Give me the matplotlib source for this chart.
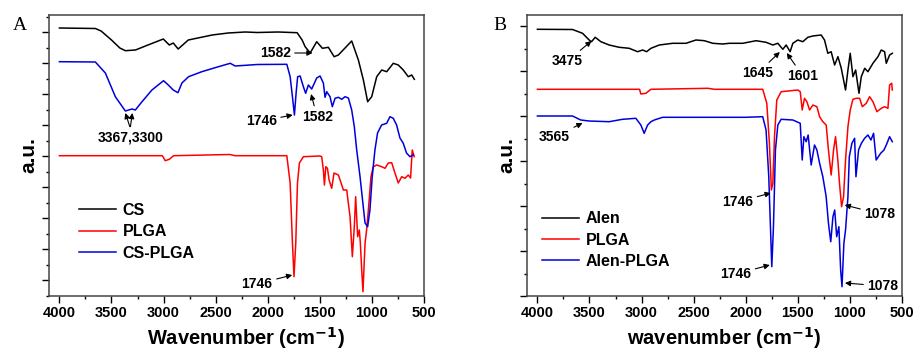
import matplotlib
matplotlib.use("Agg")
import matplotlib.pyplot as plt
from matplotlib.ticker import MultipleLocator

plt.rcParams["font.family"] = ["Liberation Sans", "DejaVu Sans"]
plt.rcParams["font.weight"] = "bold"
plt.rcParams["mathtext.default"] = "bf"

# ---- panel A: CS / PLGA / CS-PLGA  (wavenumber, a.u.)
cs_wn = [4000, 3655, 3600, 3500, 3420, 3367, 3270, 3150, 3003, 2945, 2907, 2860, 2763, 2533,
         2380, 2217, 2100, 1900, 1718, 1670, 1641, 1593, 1530, 1475, 1418, 1363, 1322, 1194,
         1130, 1082, 1041, 1002, 954, 906, 858, 795, 747, 699, 651, 618, 593]
cs_y = [268, 267.5, 265, 256, 248, 245.3, 246, 251, 257, 251, 253, 247, 256, 261,
        263, 264, 263.5, 264, 263.3, 256, 249.3, 243, 254.3, 247.7, 248.7, 239.3, 241, 255,
        236, 216, 194.3, 199.3, 219.3, 226, 224.3, 232.7, 231, 226, 219.3, 221, 216.7]

plga_a_wn = [4000, 3012, 2984, 2945, 2904, 2365, 2313, 1817, 1785, 1763, 1748, 1731, 1715, 1696,
             1658, 1500, 1482, 1466, 1456, 1443, 1427, 1411, 1386, 1364, 1322, 1296, 1274, 1242,
             1210, 1188, 1169, 1156, 1137, 1121, 1111, 1098, 1086, 1066, 1051, 1034, 1009, 987,
             954, 907, 874, 843, 810, 779, 747, 714, 683, 651, 629, 613, 594]
plga_a_y = [140.3, 140.3, 135.3, 136.7, 140.3, 141.5, 140.3, 140.3, 113, 53, 19.3, 53, 112.7, 133,
            139.3, 140, 139.3, 126, 111, 129.3, 127.7, 116, 107.7, 123, 121, 113, 106, 106,
            79.3, 39.3, 69.3, 99.3, 59.3, 66, 53, 26, 4.3, 52.7, 66, 86, 119.3, 129.3,
            131, 129.3, 127.7, 133, 133.3, 123, 113, 119.3, 117.7, 121, 118, 146, 139.3]

csplga_wn = [4000, 3655, 3559, 3463, 3367, 3303, 3271, 3207, 3112, 3000, 2955, 2907, 2862, 2824,
             2760, 2633, 2473, 2360, 2313, 2100, 1817, 1785, 1763, 1744, 1728, 1713, 1689, 1658,
             1636, 1610, 1578, 1530, 1498, 1466, 1450, 1434, 1402, 1380, 1354, 1322, 1290, 1258,
             1226, 1194, 1169, 1146, 1114, 1083, 1066, 1041, 1019, 997, 971, 946, 907, 858, 827,
             795, 763, 731, 699, 668, 635, 603]
csplga_y = [234.3, 234, 223, 199.3, 185, 187, 186, 194.3, 206, 215.3, 211, 206, 203.3, 213,
            219.3, 224.3, 229.3, 232.7, 230, 231.5, 231.7, 219.3, 199.3, 181, 202.7, 219.3, 220, 209.3,
            202.7, 211, 207, 218, 220, 213, 198.7, 204.3, 199.3, 189.3, 197.7, 198.7, 196.7, 199.3,
            198, 186, 169.3, 146, 119.3, 89.3, 73, 69.3, 86, 119.3, 146, 163, 171, 172.7, 179.3,
            177.7, 171, 158, 152.7, 143, 139.3, 141]

# ---- panel B: Alen / PLGA / Alen-PLGA
alen_wn = [4000, 3663, 3567, 3503, 3481, 3445, 3391, 3311, 3215, 3119, 3038, 2990, 2952, 2910,
           2830, 2702, 2574, 2478, 2397, 2317, 2221, 2157, 2029, 1901, 1805, 1740, 1692, 1644,
           1612, 1574, 1548, 1500, 1452, 1404, 1356, 1276, 1244, 1212, 1180, 1147, 1115, 1083,
           1042, 1019, 997, 971, 945, 913, 891, 858, 827, 779, 731, 699, 667, 651, 619, 593]
alen_y = [266.7, 266.5, 262.7, 256, 254.3, 258.7, 254.3, 251, 248.7, 247.7, 244.3, 246, 244.3, 247.7,
          251, 252.7, 252.7, 256, 255.3, 252.7, 252, 252.7, 252.7, 255.3, 253.7, 251, 252.7, 246.7,
          251, 244.3, 252.7, 256, 254.3, 258.7, 260, 261, 256, 242.7, 244.3, 231, 239.3, 227.7,
          206, 226, 242.7, 219.3, 226, 202.7, 219.3, 227.7, 224.3, 232.7, 239.3, 246, 244.3, 232.7, 241, 242.7]

plga_b_wn = [4000, 3020, 3007, 2959, 2910, 2365, 2300, 1837, 1798, 1773, 1754, 1740, 1724, 1702,
             1660, 1500, 1477, 1458, 1436, 1413, 1387, 1356, 1317, 1291, 1260, 1228, 1206, 1180,
             1157, 1138, 1116, 1100, 1080, 1061, 1042, 1019, 997, 971, 940, 907, 881, 843, 811,
             779, 741, 699, 667, 635, 619, 599, 593]
plga_b_y = [206.7, 206.7, 202, 202.7, 206.7, 207.7, 206.7, 206.7, 192.7, 153, 106, 112.7, 159.3, 196,
            204.3, 206, 204.3, 186, 197.7, 194.3, 186, 191, 189.3, 179.3, 174.3, 171, 146, 121,
            146, 159.3, 136, 112.7, 89.3, 99.3, 136, 169.3, 186, 196.7, 197.7, 197.7, 189.3, 192.7, 199.3,
            194.3, 184.3, 187.7, 189.3, 187.7, 211, 212.7, 206]

alplga_wn = [4000, 3663, 3584, 3503, 3311, 3183, 3055, 3007, 2975, 2942, 2910, 2878, 2798, 2000,
             1837, 1805, 1779, 1763, 1750, 1734, 1715, 1692, 1660, 1548, 1477, 1458, 1442, 1420,
             1401, 1372, 1340, 1317, 1291, 1260, 1228, 1206, 1184, 1163, 1146, 1127, 1106, 1089,
             1076, 1058, 1042, 1019, 1006, 981, 955, 942, 917, 890, 859, 827, 798, 773, 748, 705,
             673, 651, 619, 593]
alplga_y = [180, 180, 176, 175, 174.3, 176.7, 177.7, 171, 162.7, 171, 174.3, 176, 178.7, 178.7,
            179.3, 166, 119.3, 69.3, 29.3, 69.3, 146, 171, 176.7, 176, 172.7, 136, 159.3, 154.3,
            161, 131, 151, 146, 132.7, 119.3, 99.3, 72.7, 54.3, 79.3, 86, 59.3, 69.3, 26,
            9.3, 52.7, 66, 99.3, 139.3, 152.7, 157.7, 119.3, 146, 152.7, 157.7, 161, 156, 162.7, 136, 142.7,
            146, 151, 159.3, 154.3]

fig = plt.figure(figsize=(9.17, 3.51), dpi=100)
axA = fig.add_axes([49 / 917, 55 / 351, 375 / 917, 281 / 351])
axB = fig.add_axes([527 / 917, 55 / 351, 375 / 917, 281 / 351])

arrow = dict(arrowstyle="-|>", color="black", lw=0.8, mutation_scale=8, shrinkA=1, shrinkB=0)
ann_font = dict(fontsize=10, fontweight="bold", ha="center", va="center")


def style(ax, major, minor, offset, xlabel):
    ax.set_xlim(4100, 500)
    ax.set_ylim(0, 281)
    ax.xaxis.set_major_locator(MultipleLocator(500))
    ax.xaxis.set_minor_locator(MultipleLocator(250))
    ax.yaxis.set_major_locator(MultipleLocator(major, offset=offset))
    ax.yaxis.set_minor_locator(MultipleLocator(minor, offset=offset % minor))
    ax.set_yticklabels([])
    ax.tick_params(which="major", length=5, width=1, direction="out", labelsize=10.5, pad=2)
    ax.tick_params(which="minor", length=2.5, width=1, direction="out")
    for s in ax.spines.values():
        s.set_color("#444444")
        s.set_linewidth(1.1)
    for lab in ax.get_xticklabels():
        lab.set_fontweight("bold")
    ax.set_xlabel(xlabel, fontsize=14.5, fontweight="bold", labelpad=1)
    ax.xaxis.set_label_coords(0.525, -0.105)
    ax.set_ylabel("a.u.", fontsize=15, fontweight="bold", labelpad=1)


# Panel A
axA.plot(cs_wn, cs_y, color="black", lw=1.1, label="CS")
axA.plot(plga_a_wn, plga_a_y, color="red", lw=1.1, label="PLGA")
axA.plot(csplga_wn, csplga_y, color="#0000dd", lw=1.1, label="CS-PLGA")
style(axA, 31, 15.5, 16, "Wavenumber (cm$^{-1}$)")
axA.legend(loc="upper left", bbox_to_anchor=(0.06, 0.36), frameon=False, fontsize=11.5,
           handlelength=2.3, handletextpad=0.4, labelspacing=0.4, borderpad=0)
axA.annotate("1582", xy=(1570, 243), xytext=(1929, 243), arrowprops=arrow, **ann_font)
axA.text(3319, 159, "3367,3300", **ann_font)
axA.annotate("", xy=(3367, 183), xytext=(3320, 168), arrowprops=arrow)
axA.annotate("", xy=(3300, 183), xytext=(3320, 168), arrowprops=arrow)
axA.annotate("1746", xy=(1760, 181), xytext=(2063, 175), arrowprops=arrow, **ann_font)
axA.annotate("1582", xy=(1584, 202), xytext=(1526, 179), arrowprops=arrow, **ann_font)
axA.annotate("1746", xy=(1765, 21), xytext=(2102, 12), arrowprops=arrow, **ann_font)
fig.text(13 / 917, 1 - 25 / 351, "A", family="Liberation Serif", fontweight="normal",
         fontsize=14, ha="left", va="center")

# Panel B
axB.plot(alen_wn, alen_y, color="black", lw=1.1, label="Alen")
axB.plot(plga_b_wn, plga_b_y, color="red", lw=1.1, label="PLGA")
axB.plot(alplga_wn, alplga_y, color="#0000dd", lw=1.1, label="Alen-PLGA")
style(axB, 45, 22.5, 0, "wavenumber (cm$^{-1}$)")
axB.legend(loc="upper left", bbox_to_anchor=(0.02, 0.33), frameon=False, fontsize=11.5,
           handlelength=2.3, handletextpad=0.4, labelspacing=0.4, borderpad=0)
axB.annotate("3475", xy=(3481, 255), xytext=(3712, 235), arrowprops=arrow, **ann_font)
axB.annotate("1645", xy=(1673, 244), xytext=(1885, 223), arrowprops=arrow, **ann_font)
axB.annotate("1601", xy=(1606, 243), xytext=(1452, 220), arrowprops=arrow, **ann_font)
axB.annotate("3565", xy=(3567, 173), xytext=(3837, 159), arrowprops=arrow, **ann_font)
axB.annotate("1746", xy=(1760, 103), xytext=(2077, 94), arrowprops=arrow, **ann_font)
axB.annotate("1746", xy=(1769, 31), xytext=(2096, 22), arrowprops=arrow, **ann_font)
axB.annotate("1078", xy=(1050, 91), xytext=(712, 82), arrowprops=arrow, **ann_font)
axB.annotate("1078", xy=(1048, 13), xytext=(683, 10), arrowprops=arrow, **ann_font)
fig.text(500 / 917, 1 - 25 / 351, "B", family="Liberation Serif", fontweight="normal",
         fontsize=14, ha="center", va="center")

fig.savefig("out.png", dpi=100)
